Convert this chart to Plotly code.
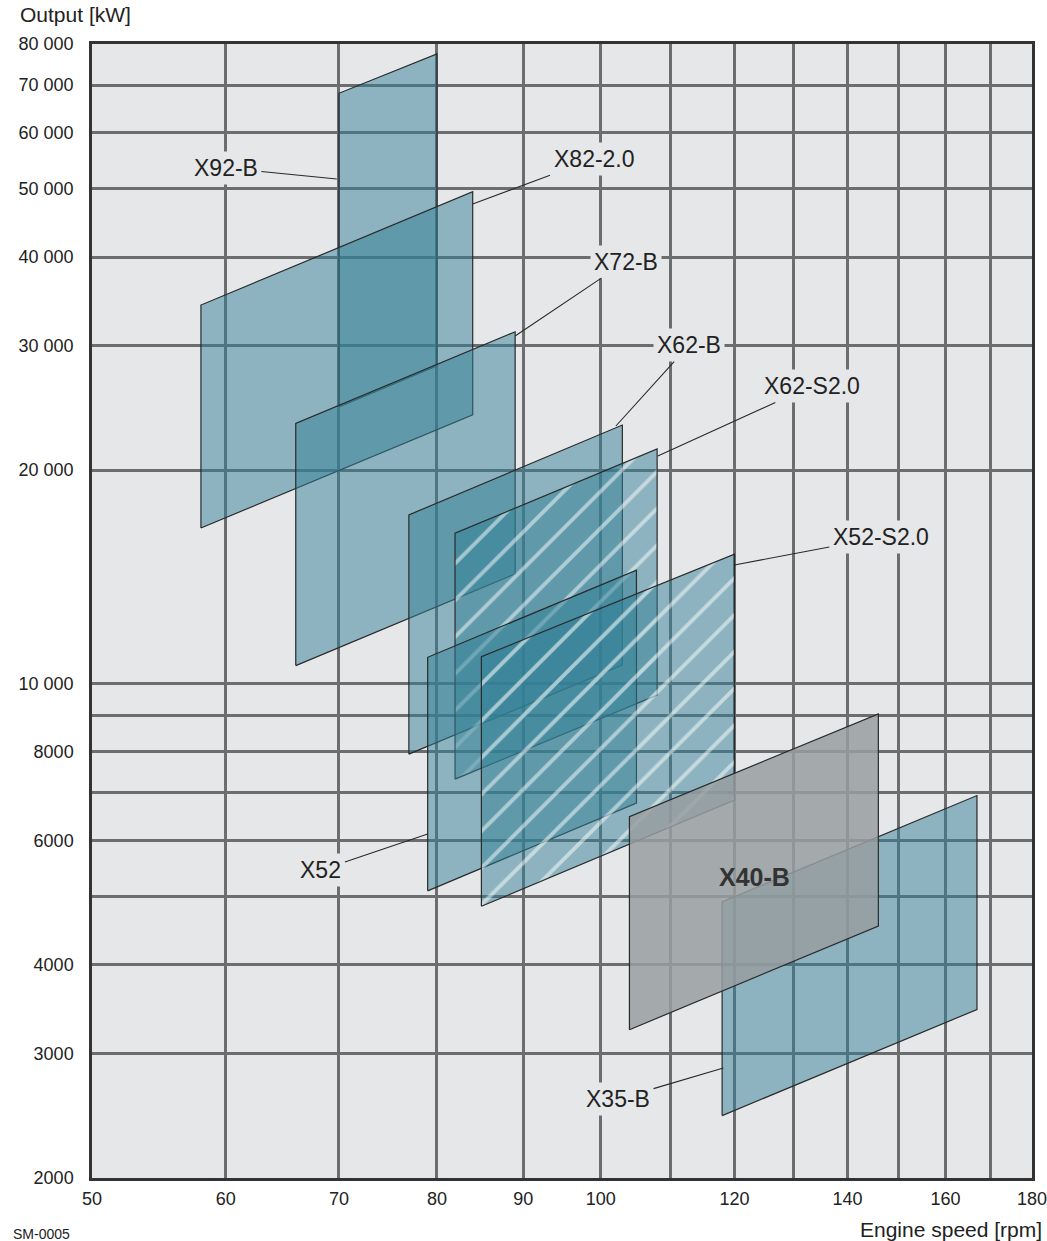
import numpy as np
import plotly.graph_objects as go

# ---------------- data ----------------
engines    = ["X92-B", "X82-2.0", "X72-B", "X62-B", "X62-S2.0", "X52", "X52-S2.0", "X35-B", "X40-B"]
rpm_min    = [70, 58, 66, 77, 82, 79, 85, 118, 104]
rpm_max    = [80, 84, 89, 103, 108, 105, 120, 167, 146]
kw_top_min = [68150, 34220, 23290, 17290, 16290, 10880, 10900, 4910, 6480]
kw_top_max = [77450, 49480, 31370, 23160, 21430, 14450, 15220, 6940, 9050]
kw_bot_min = [24560, 16570, 10590, 7940, 7320, 5090, 4840, 2450, 3240]
kw_bot_max = [28070, 23950, 14270, 10610, 9620, 6770, 6840, 3460, 4540]
hatched    = [False, False, False, False, True, False, True, False, False]
grey       = [False, False, False, False, False, False, False, False, True]

label_text = ["X92-B", "X82-2.0", "X72-B", "X62-B", "X62-S2.0", "X52-S2.0", "X52", "X35-B"]
label_rpm  = [60.0, 99.1, 103.5, 112.8, 133.3, 146.5, 68.3, 102.4]
label_kw   = [53450, 55040, 39410, 30050, 26300, 16080, 5446, 2585]
ptr_rpm    = [69.8, 84.0, 89.0, 102.1, 108.1, 120.0, 79.0, 118.2]
ptr_kw     = [51570, 47540, 30940, 23090, 20940, 14690, 6124, 2860]

bold_label = "X40-B"
bold_rpm, bold_kw = 123.4, 5325

x_tickvals = [50, 60, 70, 80, 90, 100, 110, 120, 130, 140, 150, 160, 170, 180]
x_ticktext = ["50", "60", "70", "80", "90", "100", "", "120", "", "140", "", "160", "", "180"]
y_tickvals = [2000, 3000, 4000, 5000, 6000, 7000, 8000, 9000, 10000,
              20000, 30000, 40000, 50000, 60000, 70000, 80000]
y_ticktext = ["2000", "3000", "4000", "", "6000", "", "8000", "", "10 000",
              "20 000", "30 000", "40 000", "50 000", "60 000", "70 000", "80 000"]

# ---------------- style ----------------
FONT = "Liberation Sans, Arial, Helvetica, sans-serif"
BG = "#e6e7e9"
TEAL = "rgba(50,128,150,0.5)"
GREY = "rgba(152,157,160,0.85)"
EDGE = "#2a2a2a"
GRID = "#6b6d6f"

fig = go.Figure()

for i, name in enumerate(engines):
    xs = [rpm_min[i], rpm_max[i], rpm_max[i], rpm_min[i], rpm_min[i]]
    ys = [kw_bot_min[i], kw_bot_max[i], kw_top_max[i], kw_top_min[i], kw_bot_min[i]]
    kw = dict(x=xs, y=ys, mode="lines", fill="toself", name=name,
              line=dict(color=EDGE, width=1.2), hoverinfo="skip", showlegend=False)
    kw["fillcolor"] = GREY if grey[i] else TEAL
    if hatched[i]:
        kw["fillpattern"] = dict(shape="/", size=26, solidity=0.15,
                                 bgcolor=TEAL, fgcolor="white", fgopacity=0.5)
    fig.add_trace(go.Scatter(**kw))

annotations = []
for t, lx, ly, px, py in zip(label_text, label_rpm, label_kw, ptr_rpm, ptr_kw):
    annotations.append(dict(
        x=np.log10(px), y=np.log10(py), xref="x", yref="y",
        ax=np.log10(lx), ay=np.log10(ly), axref="x", ayref="y",
        text=t, showarrow=True, arrowhead=0, arrowwidth=1.1, arrowcolor=EDGE,
        font=dict(family=FONT, size=23, color="#222"),
        bgcolor=BG, borderpad=3))

annotations.append(dict(
    x=np.log10(bold_rpm), y=np.log10(bold_kw), xref="x", yref="y",
    text="<b>%s</b>" % bold_label, showarrow=False,
    font=dict(family=FONT, size=25, color="#333")))

annotations.append(dict(x=(18 - 92) / 940, y=(1178 - 15) / 1134, xref="paper", yref="paper",
                        xanchor="left", yanchor="middle", text="Output [kW]", showarrow=False,
                        font=dict(family=FONT, size=21, color="#222")))
annotations.append(dict(x=(1044 - 92) / 940, y=(1178 - 1229) / 1134, xref="paper", yref="paper",
                        xanchor="right", yanchor="middle", text="Engine speed [rpm]", showarrow=False,
                        font=dict(family=FONT, size=21, color="#222")))
annotations.append(dict(x=(11 - 92) / 940, y=(1178 - 1234) / 1134, xref="paper", yref="paper",
                        xanchor="left", yanchor="middle", text="SM-0005", showarrow=False,
                        font=dict(family=FONT, size=14, color="#222")))

fig.update_layout(
    width=1047, height=1241,
    margin=dict(l=92, r=15, t=44, b=63, autoexpand=False),
    paper_bgcolor="white", plot_bgcolor=BG,
    showlegend=False, hovermode=False,
    annotations=annotations,
    font=dict(family=FONT, color="#222"),
)

fig.update_xaxes(type="log", range=[np.log10(50) - 1e-5, np.log10(180) + 1e-5],
                 tickmode="array", tickvals=x_tickvals, ticktext=x_ticktext,
                 showgrid=True, gridcolor=GRID, gridwidth=2.5,
                 showline=True, linecolor="#333", linewidth=2.5, mirror=True,
                 ticks="", ticklabelstandoff=3, zeroline=False, ticklabeloverflow="allow",
                 automargin=False,
                 tickfont=dict(family=FONT, size=18, color="#222"))
fig.update_yaxes(type="log", range=[np.log10(2000) - 1e-5, np.log10(80000) + 1e-5],
                 tickmode="array", tickvals=y_tickvals, ticktext=y_ticktext,
                 showgrid=True, gridcolor=GRID, gridwidth=2.5,
                 showline=True, linecolor="#333", linewidth=2.5, mirror=True,
                 ticks="", ticklabelstandoff=12, zeroline=False, ticklabeloverflow="allow",
                 automargin=False,
                 tickfont=dict(family=FONT, size=18, color="#222"))

fig.write_html("out.html", config={"displayModeBar": False},
               post_script="document.body.style.margin='0';document.body.style.overflow='hidden';")
